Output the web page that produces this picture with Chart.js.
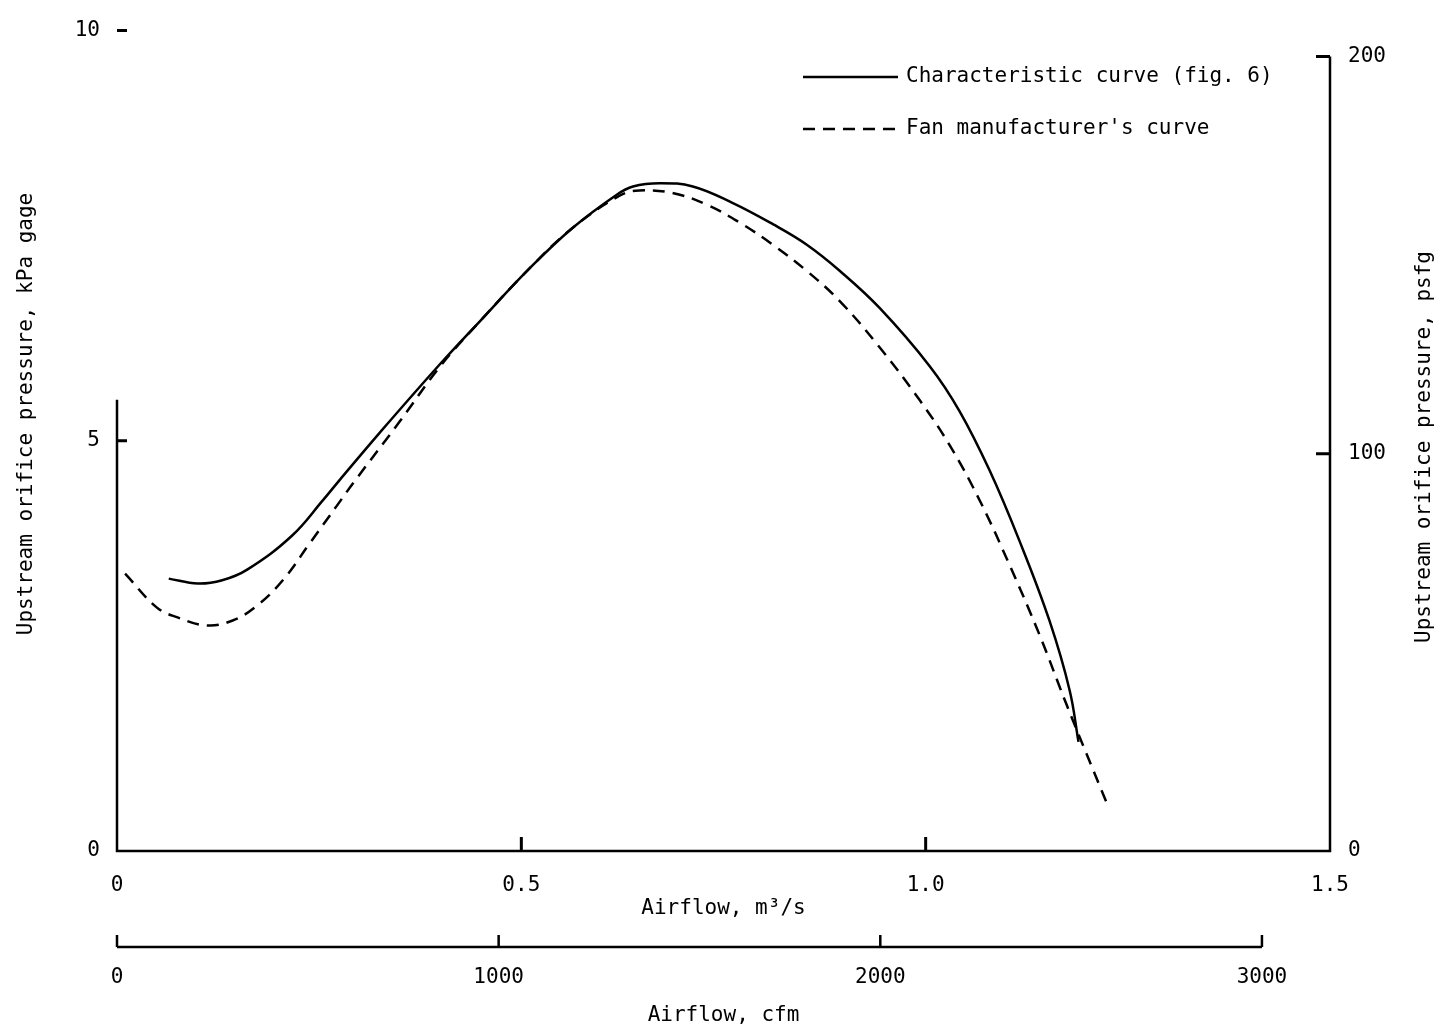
<!DOCTYPE html>
<html>
<head>
<meta charset="utf-8">
<script src="https://cdn.jsdelivr.net/npm/chart.js@4"></script>
<style>
  body { margin: 0; background: #fff; }
  canvas { display: block; }
</style>
</head>
<body>
<canvas id="fanChart" width="1452" height="1031"></canvas>
<script>
// Airflow in m3/s and upstream orifice pressure in kPa gage.
const charFlow = [0.064, 0.100, 0.130, 0.161, 0.216, 0.255, 0.276, 0.325, 0.399, 0.449, 0.511, 0.564, 0.618, 0.638,
  0.671, 0.712, 0.761, 0.811, 0.853, 0.894, 0.943, 1.005, 1.042, 1.079, 1.116, 1.153, 1.178, 1.189];
const charPressure = [3.32, 3.26, 3.30, 3.43, 3.84, 4.28, 4.53, 5.10, 5.93, 6.46, 7.11, 7.60, 8.00, 8.10,
  8.14, 8.10, 7.90, 7.64, 7.39, 7.07, 6.62, 5.91, 5.36, 4.64, 3.78, 2.81, 1.96, 1.33];

const fanFlow = [0.010, 0.049, 0.074, 0.111, 0.143, 0.173, 0.205, 0.239, 0.272, 0.294, 0.350, 0.399, 0.449, 0.511,
  0.564, 0.622, 0.646, 0.687, 0.729, 0.770, 0.811, 0.853, 0.894, 0.943, 0.993, 1.030, 1.067, 1.104, 1.141,
  1.172, 1.197, 1.225];
const fanPressure = [3.38, 2.97, 2.85, 2.75, 2.81, 2.99, 3.30, 3.76, 4.21, 4.51, 5.24, 5.90, 6.46, 7.11,
  7.60, 7.99, 8.05, 8.02, 7.88, 7.66, 7.39, 7.07, 6.70, 6.14, 5.49, 4.94, 4.27, 3.48, 2.63,
  1.84, 1.23, 0.56];

// Tick values for the four axes
const flowTicks = [0, 0.5, 1.0, 1.5];     // m3/s
const cfmTicks = [0, 1000, 2000, 3000];   // cfm
const kPaTicks = [0, 5, 10];              // kPa gage
const psfTicks = [0, 100, 200];           // psfg

const seriesNames = ['Characteristic curve (fig. 6)', "Fan manufacturer's curve"];

// secondary axis ranges (psf axis as printed, cfm from the unit conversion)
const PSF_AXIS_MAX = 206.5;
const M3S_PER_CFM = 0.000471947;

const FONT = "'DejaVu Sans Mono', monospace";
Chart.defaults.font.family = FONT;
Chart.defaults.font.size = 21;
Chart.defaults.color = '#000';

function setTicks(values) {
  return scale => { scale.ticks = values.map(v => ({ value: v })); };
}

// Draws the axis lines, inward tick marks, the cfm scale line, the vertical titles and the legend.
const paperAxes = {
  id: 'paperAxes',
  afterDraw(chart) {
    const { ctx, chartArea: a, scales } = chart;
    const x = scales.x, x2 = scales.x2, y = scales.y, y2 = scales.y2;
    ctx.save();
    ctx.strokeStyle = '#000';
    ctx.lineWidth = 2.5;

    // frame: left axis only printed on its lower half in the scan
    ctx.beginPath();
    ctx.moveTo(a.left, y.getPixelForValue(5.5));
    ctx.lineTo(a.left, a.bottom);
    ctx.lineTo(a.right, a.bottom);
    ctx.lineTo(a.right, y2.getPixelForValue(200));
    ctx.stroke();

    ctx.lineWidth = 3;
    ctx.beginPath();
    kPaTicks.filter(v => v > 0).forEach(v => {
      const py = y.getPixelForValue(v);
      ctx.moveTo(a.left, py); ctx.lineTo(a.left + 10, py);
    });
    psfTicks.filter(v => v > 0).forEach(v => {
      const py = y2.getPixelForValue(v);
      ctx.moveTo(a.right - 14, py); ctx.lineTo(a.right, py);
    });
    flowTicks.filter(v => v > 0 && v < 1.5).forEach(v => {
      const px = x.getPixelForValue(v);
      ctx.moveTo(px, a.bottom); ctx.lineTo(px, a.bottom - 14);
    });
    ctx.stroke();

    // cfm scale
    const cy = x2.top;
    ctx.lineWidth = 2.5;
    ctx.beginPath();
    ctx.moveTo(x2.getPixelForValue(0), cy);
    ctx.lineTo(x2.getPixelForValue(3000), cy);
    cfmTicks.forEach(v => {
      const px = x2.getPixelForValue(v);
      ctx.moveTo(px, cy); ctx.lineTo(px, cy - 12);
    });
    ctx.stroke();

    // vertical titles
    ctx.fillStyle = '#000';
    ctx.font = '21px ' + FONT;
    ctx.textAlign = 'center';
    ctx.textBaseline = 'middle';
    ctx.save();
    ctx.translate(27, 414);
    ctx.rotate(-Math.PI / 2);
    ctx.fillText('Upstream orifice pressure, kPa gage', 0, 0);
    ctx.restore();
    ctx.save();
    ctx.translate(1425, 447);
    ctx.rotate(-Math.PI / 2);
    ctx.fillText('Upstream orifice pressure, psfg', 0, 0);
    ctx.restore();

    // legend
    ctx.textAlign = 'left';
    const rows = [{ y: 77, dash: [] }, { y: 129, dash: [12, 8] }];
    rows.forEach((r, i) => {
      ctx.setLineDash(r.dash);
      ctx.lineWidth = 2.5;
      ctx.beginPath();
      ctx.moveTo(803, r.y); ctx.lineTo(898, r.y);
      ctx.stroke();
      ctx.setLineDash([]);
      ctx.fillText(seriesNames[i], 906, r.y);
    });
    ctx.restore();
  }
};

const toPoints = (xs, ys) => xs.map((v, i) => ({ x: v, y: ys[i] }));

new Chart(document.getElementById('fanChart'), {
  type: 'line',
  data: {
    datasets: [
      {
        label: seriesNames[0],
        data: toPoints(charFlow, charPressure),
        borderColor: '#000',
        borderWidth: 2.5,
        pointRadius: 0,
        tension: 0.4,
        yAxisID: 'y',
        xAxisID: 'x'
      },
      {
        label: seriesNames[1],
        data: toPoints(fanFlow, fanPressure),
        borderColor: '#000',
        borderWidth: 2.5,
        borderDash: [12, 8],
        pointRadius: 0,
        tension: 0.4,
        yAxisID: 'y',
        xAxisID: 'x'
      }
    ]
  },
  options: {
    responsive: false,
    animation: false,
    layout: { padding: { top: 29, left: 0, right: 0, bottom: 0 } },
    plugins: { legend: { display: false }, tooltip: { enabled: false } },
    scales: {
      x: {
        type: 'linear', position: 'bottom', weight: 0,
        min: 0, max: 1.5,
        afterBuildTicks: setTicks(flowTicks),
        afterFit: s => { s.height = 96; },
        grid: { display: false, drawTicks: false },
        border: { display: false },
        ticks: { padding: 22, maxRotation: 0, callback: v => v === 0 ? '0' : v.toFixed(1) },
        title: { display: true, text: 'Airflow, m³/s', padding: { top: 0, bottom: 26 } }
      },
      x2: {
        type: 'linear', position: 'bottom', weight: 1,
        min: 0, max: 1.5 / M3S_PER_CFM,
        afterBuildTicks: setTicks(cfmTicks),
        afterFit: s => { s.height = 84; },
        grid: { display: false, drawTicks: false },
        border: { display: false },
        ticks: { padding: 18, maxRotation: 0, callback: v => String(v) },
        title: { display: true, text: 'Airflow, cfm', padding: { top: 0, bottom: 3 } }
      },
      y: {
        type: 'linear', position: 'left',
        min: 0, max: 10,
        afterBuildTicks: setTicks(kPaTicks),
        afterFit: s => { s.width = 117; },
        grid: { display: false, drawTicks: false },
        border: { display: false },
        ticks: { padding: 17, callback: v => String(v) }
      },
      y2: {
        type: 'linear', position: 'right',
        min: 0, max: PSF_AXIS_MAX,
        afterBuildTicks: setTicks(psfTicks),
        afterFit: s => { s.width = 122; },
        grid: { display: false, drawTicks: false },
        border: { display: false },
        ticks: { padding: 18, callback: v => String(v) }
      }
    }
  },
  plugins: [paperAxes]
});
</script>
</body>
</html>
